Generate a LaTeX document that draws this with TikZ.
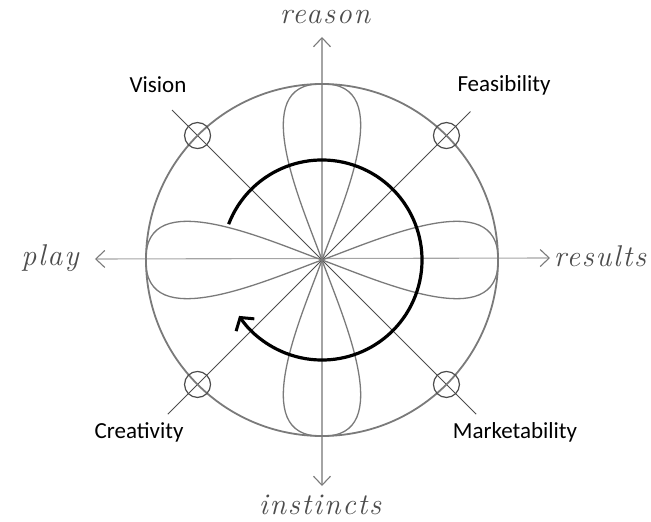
\documentclass[tikz,border=0pt]{standalone}
\usepackage{fontspec}
\usepackage{tikz}
\usetikzlibrary{arrows.meta, positioning}
\newfontfamily\calibri{Carlito}
\newfontfamily\handfont[LetterSpace=6]{Latin Modern Roman}
\definecolor{pencil}{HTML}{7A7A7A}
\definecolor{pencil_light}{HTML}{A4A4A4}
\definecolor{pencil_dark}{HTML}{4C4C4C}
\tikzset{
  axis/.style={draw=pencil_light,line width=1.1pt,
    >={Straight Barb[length=9pt,width=17pt,line width=1.1pt,color=pencil]}},
  diag/.style={draw=pencil_dark,line width=1pt},
  ring/.style={draw=pencil,line width=1.8pt},
  petal/.style={draw=pencil,line width=1.3pt},
  knot/.style={circle,draw=pencil_dark,line width=1.2pt,minimum size=26pt,inner sep=0pt},
  cycle/.style={draw=black,line width=3.2pt,
    >={Straight Barb[length=9pt,width=22pt,line width=3pt]}},
  tag/.style={font=\calibri\fontsize{23}{25}\selectfont,text=black,inner sep=1pt},
  hand/.style={font=\handfont\itshape\fontsize{30}{32}\selectfont,text=pencil_dark,inner sep=1pt},
}

\begin{document}
\begin{tikzpicture}[x=1pt,y=1pt]
	\useasboundingbox (-322,-262) rectangle (329,260);
	\coordinate (O) at (0,0);
	\coordinate (N) at (0,223);
	\coordinate (S) at (0,-226);
	\coordinate (W) at (-227,1);
	\coordinate (E) at (228,2);
	\coordinate (NW) at (135:212);
	\coordinate (SE) at (-45:218);
	\coordinate (NE) at (45:210);
	\coordinate (SW) at (-135:218);

	% cross of axes and the two diagonals
	\draw[axis,<->] (S) -- (N);
	\draw[axis,<->] (W) -- (E);
	\draw[diag] (NW) -- (SE);
	\draw[diag] (NE) -- (SW);

	% four petals
	\foreach \a in {0,90,180,270}
		\draw[petal,rotate=\a] (O) .. controls (55,20) and (178,76) .. (176,0)
			.. controls (178,-76) and (55,-20) .. (O);

	\draw[ring] (O) circle[radius=176];

	\node[knot] (kNW) at (135:176) {};
	\node[knot] (kNE) at (45:176) {};
	\node[knot] (kSW) at (-135:176) {};
	\node[knot] (kSE) at (-45:176) {};

	\draw[cycle,->] (159:100) arc[start angle=159,end angle=-146,radius=100];

	\node[tag] (vision) at (-164,175) {Vision};
	\node[tag] (feasibility) at (182,175) {Feasibility};
	\node[tag] (creativity) at (-183,-172) {Creativity};
	\node[tag] (marketability) at (193,-172) {Marketability};

	\node[hand] (reason) at (3,243) {reason};
	\node[hand] (play) at (-272,2) {play};
	\node[hand] (results) at (278,4) {results};
	\node[hand] (instincts) at (-2,-245) {instincts};
\end{tikzpicture}
\end{document}
